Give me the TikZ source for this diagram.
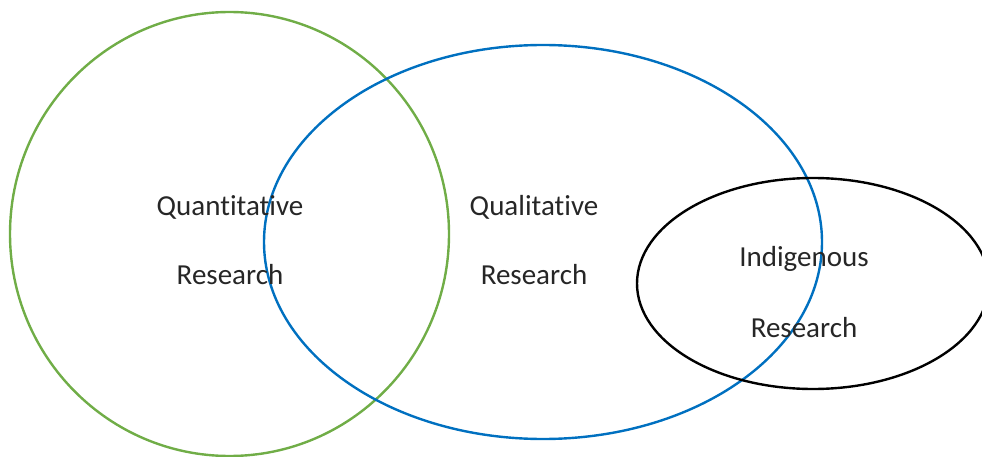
\documentclass[tikz,border=0pt]{standalone}
\usepackage{fontspec}
\setmainfont{Carlito}[Ligatures={NoCommon}]
\definecolor{vgreen}{HTML}{70AD47}
\definecolor{vblue}{HTML}{0070C0}
\definecolor{vtext}{HTML}{262626}
\begin{document}
\begin{tikzpicture}[x=1pt,y=-1pt,
  ring/.style={line width=2.4pt},
  lbl/.style={font=\fontsize{29}{31}\selectfont, text=vtext, inner sep=0pt}]
\useasboundingbox (0,0) rectangle (982,457);
% the three overlapping sets
\draw[ring, vgreen] (229.5,234) ellipse [x radius=219.5, y radius=222];
\draw[ring, vblue]  (543,242) ellipse [x radius=279, y radius=197];
\draw[ring, black]  (813,283.5) ellipse [x radius=176, y radius=105.5];
% labels
\node[lbl] (quan1) at (230,207) {Quantitative};
\node[lbl] (quan2) at (230,275) {Research};
\node[lbl] (qual1) at (534,207) {Qualitative};
\node[lbl] (qual2) at (534,275) {Research};
\node[lbl] (ind1)  at (804,259) {Indigenous};
\node[lbl] (ind2)  at (804,328) {Research};
\end{tikzpicture}
\end{document}
